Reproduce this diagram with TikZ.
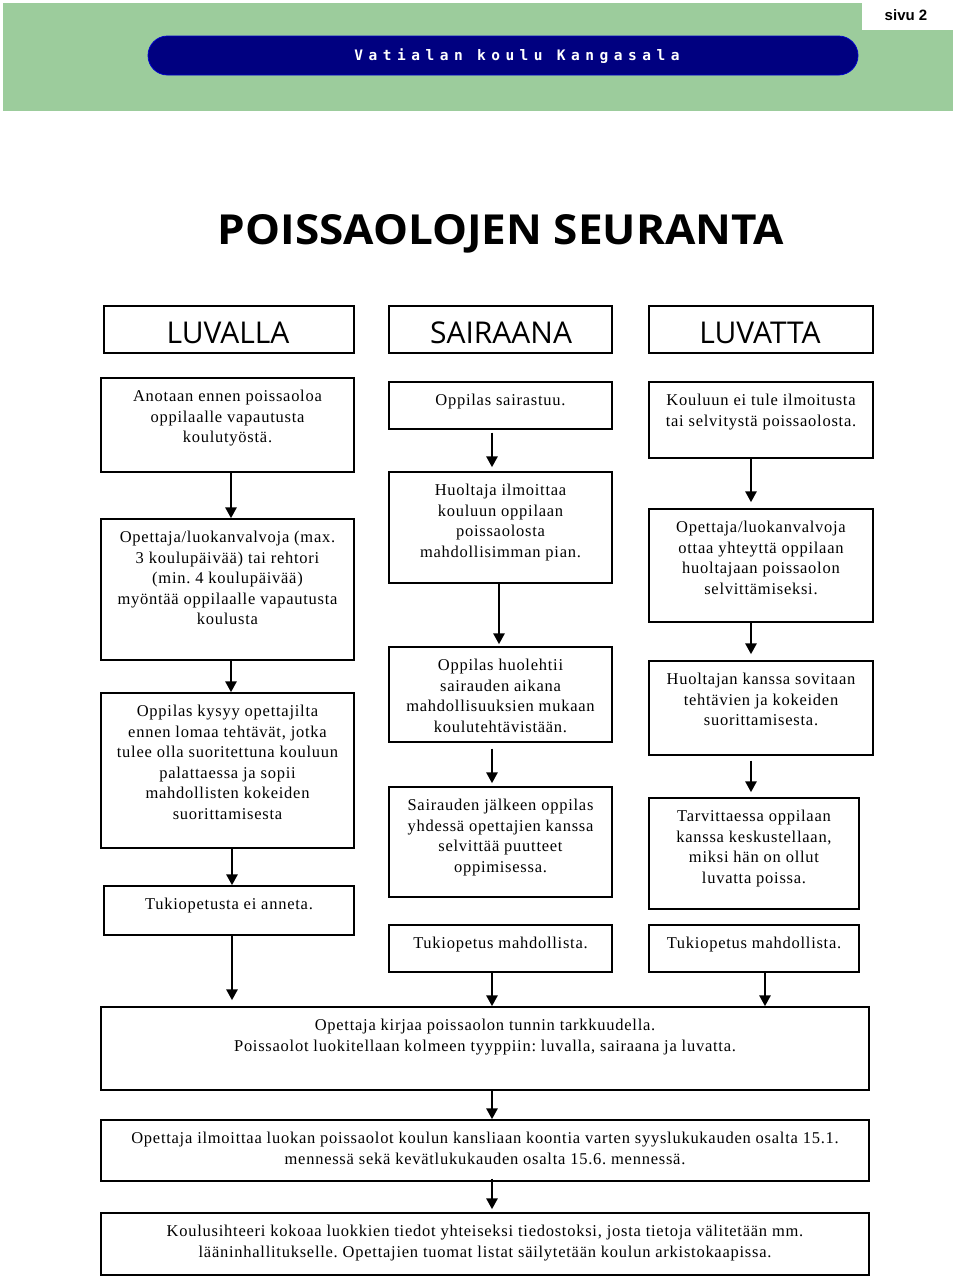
\documentclass[tikz,border=0pt]{standalone}
\usepackage{fontspec}
\usepackage{graphicx}
\setmainfont{Liberation Serif}[LetterSpace=4.5]
\newfontfamily\hdrfont[LetterSpace=38]{DejaVu Sans Mono}
\newfontfamily\ttlfont{Open Sans}
\newfontfamily\colfont{Open Sans}
\newfontfamily\sivufont{Liberation Sans}
\usetikzlibrary{arrows.meta,calc}
\definecolor{hdrgreen}{RGB}{156,204,156}
\definecolor{navy}{RGB}{0,0,128}
\frenchspacing
\newcommand\mybox[6]{%
  \node[box, minimum width={#4-#2}, minimum height={#5-#3}] (#1) at ({(#2+#4)/2},{(#3+#5)/2}) {};
  \node[txt, anchor=north] (#1t) at ($(#1.north)+(0,12.5)$) {#6};}
\begin{document}
\begin{tikzpicture}[x=1pt,y=-1pt,
  box/.style={draw=black, line width=1.4pt, fill=white, inner sep=0pt, rectangle},
  txt/.style={inner sep=0pt, align=center, font=\fontsize{16.5}{20.6}\selectfont},
  colhead/.style={box, font=\colfont\fontsize{30}{30}\selectfont},
  arr/.style={line width=2.8pt, -{Triangle[length=11pt,width=11pt]}}]
\useasboundingbox (0,0) rectangle (960,1283);
% header band
\fill[hdrgreen] (3,3) rectangle (953,111);
\fill[white] (862,0) rectangle (953,30);
\node[font=\sivufont\bfseries\fontsize{15}{15}\selectfont, inner sep=0pt] (sivu) at (906,15) {sivu 2};
\node[fill=navy, draw=blue!60!navy, line width=0.8pt, rounded corners=19.5pt, minimum width=710pt, minimum height=39pt, inner sep=0pt] (pill) at (503,55.5) {};
\node[text=white, font=\hdrfont\bfseries\fontsize{14.5}{14.5}\selectfont, inner sep=0pt] (school) at (517,56) {Vatialan koulu Kangasala};
% title
\node[inner sep=0pt, anchor=base] (title) at (501,244) {\resizebox{566pt}{30pt}{\ttlfont\bfseries POISSAOLOJEN SEURANTA}};
% column heads
\node[colhead, minimum width=250pt, minimum height=47pt] (H1) at (229,329.5) {};
\node[colhead, minimum width=223pt, minimum height=47pt] (H2) at (500.5,329.5) {};
\node[colhead, minimum width=224pt, minimum height=47pt] (H3) at (761,329.5) {};
\node[font=\colfont\fontsize{30}{30}\selectfont, inner sep=0pt] (H1t) at (228,333) {LUVALLA};
\node[font=\colfont\fontsize{30}{30}\selectfont, inner sep=0pt] (H2t) at (501,333) {SAIRAANA};
\node[font=\colfont\fontsize{30}{30}\selectfont, inner sep=0pt] (H3t) at (760,333) {LUVATTA};
% left column
\mybox{L1}{101}{378}{354}{472}{Anotaan ennen poissaoloa\\ oppilaalle vapautusta\\ koulutyöstä.}
\mybox{L2}{101}{519}{354}{660}{Opettaja/luokanvalvoja (max.\\ 3 koulupäivää) tai rehtori\\ (min. 4 koulupäivää)\\ myöntää oppilaalle vapautusta\\ koulusta}
\mybox{L3}{101}{693}{354}{848}{Oppilas kysyy opettajilta\\ ennen lomaa tehtävät, jotka\\ tulee olla suoritettuna kouluun\\ palattaessa ja sopii\\ mahdollisten kokeiden\\ suorittamisesta}
\mybox{L4}{104}{886}{354}{935}{Tukiopetusta ei anneta.}
% middle column
\mybox{M1}{389}{382}{612}{429}{Oppilas sairastuu.}
\mybox{M2}{389}{472}{612}{583}{Huoltaja ilmoittaa\\ kouluun oppilaan\\ poissaolosta\\ mahdollisimman pian.}
\mybox{M3}{389}{647}{612}{742}{Oppilas huolehtii\\ sairauden aikana\\ mahdollisuuksien mukaan\\ koulutehtävistään.}
\mybox{M4}{389}{787}{612}{897}{Sairauden jälkeen oppilas\\ yhdessä opettajien kanssa\\ selvittää puutteet\\ oppimisessa.}
\mybox{M5}{389}{925}{612}{972}{Tukiopetus mahdollista.}
% right column
\mybox{R1}{649}{382}{873}{458}{Kouluun ei tule ilmoitusta\\ tai selvitystä poissaolosta.}
\mybox{R2}{649}{509}{873}{622}{Opettaja/luokanvalvoja\\ ottaa yhteyttä oppilaan\\ huoltajaan poissaolon\\ selvittämiseksi.}
\mybox{R3}{649}{661}{873}{755}{Huoltajan kanssa sovitaan\\ tehtävien ja kokeiden\\ suorittamisesta.}
\mybox{R4}{649}{798}{859}{909}{Tarvittaessa oppilaan\\ kanssa keskustellaan,\\ miksi hän on ollut\\ luvatta poissa.}
\mybox{R5}{649}{925}{859}{972}{Tukiopetus mahdollista.}
% bottom
\mybox{B1}{101}{1007}{869}{1090}{Opettaja kirjaa poissaolon tunnin tarkkuudella.\\ Poissaolot luokitellaan kolmeen tyyppiin: luvalla, sairaana ja luvatta.}
\mybox{B2}{101}{1120}{869}{1181}{Opettaja ilmoittaa luokan poissaolot koulun kansliaan koontia varten syyslukukauden osalta 15.1.\\ mennessä sekä kevätlukukauden osalta 15.6. mennessä.}
\mybox{B3}{101}{1213}{869}{1275}{Koulusihteeri kokoaa luokkien tiedot yhteiseksi tiedostoksi, josta tietoja välitetään mm.\\ lääninhallitukselle. Opettajien tuomat listat säilytetään koulun arkistokaapissa.}
% arrows
\draw[arr] ([xshift=3.5pt]L1.south) -- ([xshift=3.5pt]L2.north);
\draw[arr] ([xshift=3.5pt]L2.south) -- ([xshift=3.5pt]L3.north);
\draw[arr] ([xshift=4.5pt]L3.south) -- ([xshift=3pt]L4.north);
\draw[arr, shorten >=6pt] ([xshift=3pt]L4.south) -- ([xshift=-253pt]B1.north);
\draw[arr, shorten <=3pt, shorten >=4pt] ([xshift=-8.5pt]M1.south) -- ([xshift=-8.5pt]M2.north);
\draw[arr, shorten >=2pt] ([xshift=-1.5pt]M2.south) -- ([xshift=-1.5pt]M3.north);
\draw[arr, shorten <=6pt, shorten >=3pt] ([xshift=-8.5pt]M3.south) -- ([xshift=-8.5pt]M4.north);
\draw[arr] ([xshift=-8.5pt]M5.south) -- ([xshift=7pt]B1.north);
\draw[arr, shorten >=6pt] ([xshift=-10pt]R1.south) -- ([xshift=-10pt]R2.north);
\draw[arr, shorten >=6pt] ([xshift=-10pt]R2.south) -- ([xshift=-10pt]R3.north);
\draw[arr, shorten <=5pt, shorten >=5pt] ([xshift=-10pt]R3.south) -- ([xshift=-3pt]R4.north);
\draw[arr] ([xshift=11pt]R5.south) -- ([xshift=280pt]B1.north);
\draw[arr] ([xshift=7pt]B1.south) -- ([xshift=7pt]B2.north);
\draw[arr, shorten <=-3pt, shorten >=3pt] ([xshift=7pt]B2.south) -- ([xshift=7pt]B3.north);
\end{tikzpicture}
\end{document}
